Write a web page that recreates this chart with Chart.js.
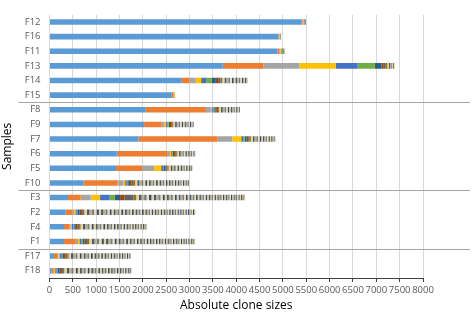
<!DOCTYPE html>
<html lang="en">
<head>
    <meta charset="UTF-8">
    <title>Absolute clone sizes</title>
    <script src="https://cdn.jsdelivr.net/npm/chart.js"></script>
    <style>
        html, body { margin: 0; padding: 0; background: #fff; }
        #wrap { width: 472px; height: 312px; }
    </style>
</head>
<body>
    <div id="wrap"><canvas id="cloneChart"></canvas></div>

    <script>
        // samples, top to bottom
        let samples = ["F12", "F16", "F11", "F13", "F14", "F15",
                       "F8", "F9", "F7", "F6", "F5", "F10",
                       "F3", "F2", "F4", "F1", "F17", "F18"];

        // clone sizes per sample, largest clone first
        let F12 = [5400, 25, 15, 12, 10, 8, 6, 6, 5, 5, 8];
        let F16 = [4900, 12, 10, 8, 6, 5, 5, 4, 4, 3, 3];
        let F11 = [4880, 40, 25, 20, 15, 12, 10, 8, 8, 6, 6, 5, 5];
        let F13 = [3710, 870, 770, 780, 470, 370, 140, 50, 40, 35, 30, 28, 25, 22, 20, 18, 15];
        let F14 = [2834, 163, 137, 114, 107, 122, 71, 64, 50, 40,
                   45, 40, 42, 38, 40, 36, 38, 35, 36, 34, 33, 32, 30, 30, 31];
        let F15 = [2620, 30, 15, 10, 8, 7];
        let F8 = [2062, 1287, 107, 28, 25, 20, 30, 25, 28, 20,
                  40, 38, 36, 35, 34, 33, 32, 31, 30, 29, 28, 27, 26, 25];
        let F9 = [2026, 365, 64, 43, 30, 25, 28, 25, 24, 22,
                  38, 36, 35, 34, 33, 32, 31, 30, 30, 29, 28, 27, 26, 25];
        let F7 = [1904, 1687, 322, 193, 40, 35, 40, 35, 30, 28,
                  40, 38, 37, 36, 35, 34, 33, 32, 31, 30, 30, 29, 28, 27, 26, 25, 25];
        let F6 = [1441, 1093, 50, 20, 18, 16, 30, 25, 24, 22,
                  36, 35, 34, 33, 32, 31, 30, 29, 28, 27, 26, 25, 22];
        let F5 = [1426, 557, 257, 151, 40, 20, 30, 25, 24, 22,
                  40, 38, 37, 36, 35, 34, 33, 32, 31, 30, 29, 28, 27, 26, 25, 25];
        let F10 = [725, 729, 129, 37, 35, 30, 40, 35, 45, 30,
                   45, 44, 43, 42, 41, 40, 40, 39, 38, 38, 37, 36, 36, 35, 35, 34, 34,
                   33, 33, 32, 32, 31, 31, 30, 30, 29, 29, 28, 28, 27, 27, 26, 26, 25, 25];
        let F3 = [397, 271, 215, 200, 193, 122, 114, 92, 193, 60,
                  58, 56, 55, 54, 52, 51, 50, 49, 48, 47, 46, 45, 44, 44, 43, 42, 42, 41, 40, 40,
                  39, 39, 38, 38, 37, 37, 36, 36, 35, 35, 34, 34, 34, 33, 33, 33, 32, 32, 32, 31,
                  31, 31, 30, 30, 30, 30, 29, 29, 29, 29, 28, 28, 28, 28, 27, 27, 27, 27, 26, 26,
                  26, 25, 25, 25, 20];
        let F2 = [347, 143, 40, 25, 30, 25, 35, 30, 40, 30,
                  55, 54, 52, 51, 50, 49, 48, 47, 46, 45, 44, 43, 43, 42, 41, 41, 40, 40, 39, 39,
                  38, 38, 37, 37, 36, 36, 36, 35, 35, 35, 34, 34, 34, 33, 33, 33, 33, 32, 32, 32,
                  32, 31, 31, 31, 31, 30, 30, 30, 30, 30, 29, 29, 29, 29, 29, 28, 28, 28, 28, 28,
                  27, 27, 27, 27, 27, 27, 26];
        let F4 = [311, 114, 30, 25, 30, 20, 35, 30, 40, 30,
                  50, 48, 47, 46, 45, 44, 43, 42, 41, 40, 40, 39, 38, 38, 37, 37, 36, 36, 35, 35,
                  34, 34, 33, 33, 32, 32, 31, 31, 30, 30, 30, 29, 29, 28, 28, 27, 27, 26, 26, 25];
        let F1 = [311, 236, 64, 30, 35, 30, 40, 35, 40, 30,
                  56, 54, 52, 51, 50, 49, 48, 47, 46, 45, 44, 43, 42, 42, 41, 40, 40, 39, 39, 38,
                  38, 37, 37, 36, 36, 35, 35, 35, 34, 34, 34, 33, 33, 33, 32, 32, 32, 31, 31, 31,
                  30, 30, 30, 30, 29, 29, 29, 29, 28, 28, 28, 28, 28, 27, 27, 27, 27, 26, 26, 26,
                  26, 26, 26, 25, 25];
        let F17 = [96, 65, 30, 25, 30, 30, 35, 30, 40, 30,
                   50, 48, 46, 45, 44, 43, 42, 41, 40, 39, 39, 38, 37, 37, 36, 36, 35, 35, 34, 34,
                   33, 33, 32, 32, 31, 31, 30, 30, 29, 29, 28, 28, 27, 27, 26, 26, 25, 25];
        let F18 = [47, 30, 25, 20, 30, 30, 35, 30, 40, 30,
                   52, 50, 48, 47, 46, 45, 44, 43, 42, 41, 40, 40, 39, 38, 38, 37, 37, 36, 36, 35,
                   35, 34, 34, 33, 33, 32, 32, 31, 31, 30, 30, 29, 29, 28, 28, 27, 27, 26, 26, 25];

        let cloneSizes = [F12, F16, F11, F13, F14, F15, F8, F9, F7, F6, F5, F10, F3, F2, F4, F1, F17, F18];

        // x axis ticks
        let xMax = 8000;
        let xStep = 500;

        // series colours: first ten clones, then the small-clone stripes
        let headColors = ["#5b9bd5", "#ed7d31", "#a5a5a5", "#ffc000", "#4472c4",
                          "#70ad47", "#255e91", "#9e480e", "#636363", "#997300"];
        let tailColors = ["#d9d2b5", "#505a62", "#b8b199", "#7e7e74", "#e3ddc8", "#3f4a52"];

        // groups are split after these rows
        let groupEnds = [5, 11, 15];

        let maxLen = Math.max(...cloneSizes.map(s => s.length));
        let datasets = [];
        for (let k = 0; k < maxLen; k++) {
            datasets.push({
                label: "clone " + (k + 1),
                data: cloneSizes.map(s => s[k] || 0),
                backgroundColor: k < headColors.length ? headColors[k] : tailColors[(k - headColors.length) % tailColors.length],
                borderWidth: 0,
                categoryPercentage: 1,
                barPercentage: 0.38
            });
        }

        // grey lines between sample groups
        let separators = {
            id: "separators",
            afterDatasetsDraw(chart) {
                let c = chart.ctx;
                let y = chart.scales.y;
                c.save();
                c.strokeStyle = "#a6a6a6";
                c.lineWidth = 1;
                groupEnds.forEach(i => {
                    let py = Math.round((y.getPixelForValue(i) + y.getPixelForValue(i + 1)) / 2) + 0.5;
                    c.beginPath();
                    c.moveTo(chart.chartArea.left - 31, py);
                    c.lineTo(chart.width - 2, py);
                    c.stroke();
                });
                c.restore();
            }
        };

        let ctx = document.getElementById("cloneChart").getContext("2d");
        let chart = new Chart(ctx, {
            type: "bar",
            data: { labels: samples, datasets: datasets },
            plugins: [separators],
            options: {
                indexAxis: "y",
                responsive: true,
                maintainAspectRatio: false,
                animation: false,
                layout: { padding: { left: 0, right: 49, top: 0, bottom: 0 } },
                plugins: {
                    legend: { display: false },
                    tooltip: { enabled: false }
                },
                scales: {
                    x: {
                        stacked: true,
                        min: 0,
                        max: xMax,
                        afterFit(scale) { scale.height = 34; },
                        ticks: {
                            stepSize: xStep,
                            autoSkip: false,
                            maxRotation: 0,
                            padding: 3,
                            color: "#595959",
                            font: { family: "Open Sans", size: 9.5 },
                            callback: v => String(v)
                        },
                        grid: { color: "#d9d9d9", tickColor: "#404040", tickLength: 4 },
                        border: { color: "#404040" },
                        title: {
                            display: true,
                            text: "Absolute clone sizes",
                            color: "#000",
                            padding: { top: 0, bottom: 0 },
                            font: { family: "Open Sans", size: 12, lineHeight: 1 }
                        }
                    },
                    y: {
                        stacked: true,
                        afterFit(scale) { scale.width = 49.5; },
                        grid: { display: false, drawTicks: false },
                        border: { display: false },
                        ticks: {
                            padding: 9,
                            color: "#595959",
                            font: { family: "Open Sans", size: 9.5 }
                        },
                        title: {
                            display: true,
                            text: "Samples",
                            color: "#000",
                            padding: { top: 0, bottom: 0 },
                            font: { family: "Open Sans", size: 12 }
                        }
                    }
                }
            }
        });
    </script>
</body>
</html>
